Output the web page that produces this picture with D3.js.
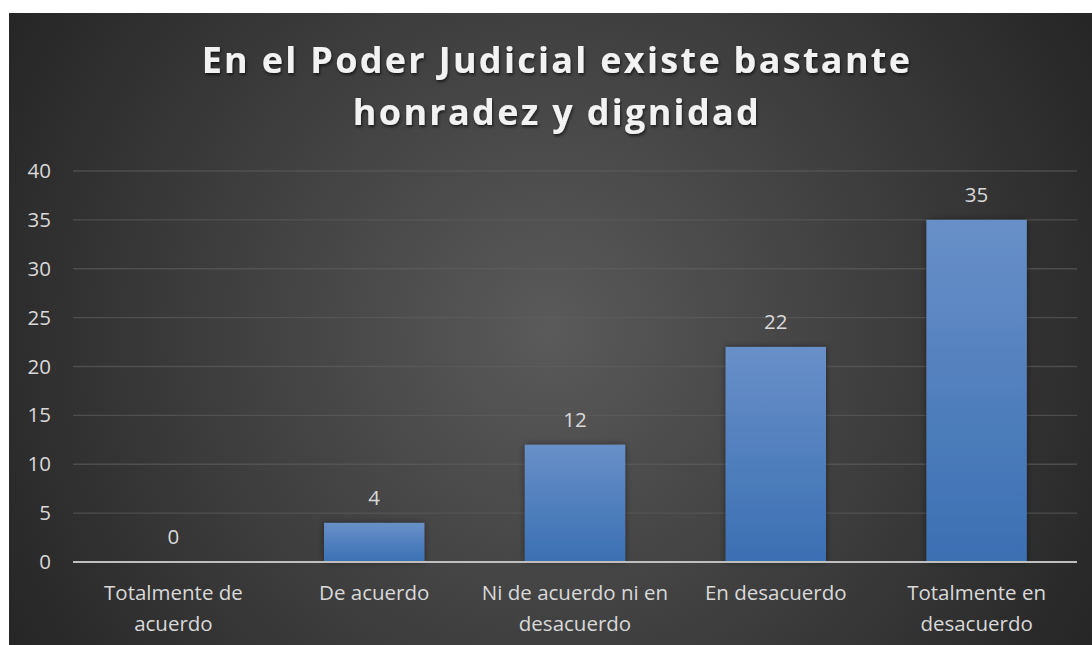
<!DOCTYPE html>
<html>
<head>
<meta charset="utf-8">
<script src="https://cdn.jsdelivr.net/npm/d3@7"></script>
<style>
html,body{margin:0;padding:0;background:#fff;}
svg{display:block;}
</style>
</head>
<body>
<svg id="chart" width="1092" height="645"></svg>
<script>
const titleLines = ["En el Poder Judicial existe bastante", "honradez y dignidad"];
const categories = ["Totalmente de acuerdo", "De acuerdo", "Ni de acuerdo ni en desacuerdo", "En desacuerdo", "Totalmente en desacuerdo"];
const categoryLines = [["Totalmente de", "acuerdo"], ["De acuerdo"], ["Ni de acuerdo ni en", "desacuerdo"], ["En desacuerdo"], ["Totalmente en", "desacuerdo"]];
const values = [0, 4, 12, 22, 35];
const yTicks = [0, 5, 10, 15, 20, 25, 30, 35, 40];

const svg = d3.select("#chart");
const W = 1092, H = 645;
const defs = svg.append("defs");

const bg = defs.append("radialGradient").attr("id", "bg")
  .attr("gradientUnits", "userSpaceOnUse")
  .attr("cx", 550).attr("cy", 330).attr("r", 620);
bg.append("stop").attr("offset", "0%").attr("stop-color", "#5a5a5a");
bg.append("stop").attr("offset", "100%").attr("stop-color", "#262626");

const bar = defs.append("linearGradient").attr("id", "barg").attr("x1", 0).attr("y1", 0).attr("x2", 0).attr("y2", 1);
bar.append("stop").attr("offset", "0%").attr("stop-color", "#6890c8");
bar.append("stop").attr("offset", "100%").attr("stop-color", "#3b6fb3");

const shadow = defs.append("filter").attr("id", "shadow").attr("x", "-20%").attr("y", "-20%").attr("width", "140%").attr("height", "140%");
shadow.append("feDropShadow").attr("dx", 0).attr("dy", 0).attr("stdDeviation", 3).attr("flood-color", "#000").attr("flood-opacity", 0.45);

const tshadow = defs.append("filter").attr("id", "tshadow").attr("x", "-5%").attr("y", "-30%").attr("width", "110%").attr("height", "160%");
tshadow.append("feDropShadow").attr("dx", 1).attr("dy", 2).attr("stdDeviation", 1.5).attr("flood-color", "#000").attr("flood-opacity", 0.6);

svg.append("rect").attr("x", 9).attr("y", 13).attr("width", W - 9).attr("height", H - 13).attr("fill", "url(#bg)");

const font = "'Open Sans', sans-serif";
const fs = 20.5;

const m = {left: 73, right: 1077, top: 171, bottom: 562};
const x = d3.scaleBand().domain(categories).range([m.left, m.right]).paddingInner(0.5).paddingOuter(0.25);
const y = d3.scaleLinear().domain([0, 40]).range([m.bottom, m.top]);

// title
svg.append("g").selectAll("text").data(titleLines).join("text")
  .attr("x", 557).attr("y", (d, i) => 73 + i * 52)
  .attr("text-anchor", "middle")
  .attr("fill", "#f2f2f2")
  .attr("font-family", "'Open Sans', sans-serif")
  .attr("font-weight", "bold")
  .attr("font-size", 36)
  .attr("letter-spacing", 2.3)
  .attr("filter", "url(#tshadow)")
  .text(d => d);

// gridlines
svg.append("g").selectAll("line").data(yTicks.filter(t => t > 0)).join("line")
  .attr("x1", m.left).attr("x2", m.right)
  .attr("y1", d => y(d)).attr("y2", d => y(d))
  .attr("stroke", "#5e5e5e").attr("stroke-width", 1.3).attr("stroke-opacity", 0.65);

// y axis labels
const yAxis = d3.axisLeft(y).tickValues(yTicks).tickSize(0).tickPadding(0);
const ya = svg.append("g").attr("transform", `translate(51,0)`).call(yAxis);
ya.select(".domain").remove();
ya.selectAll("text").attr("fill", "#d9d9d9").attr("font-family", font).attr("font-size", fs);

// bars
svg.append("g").selectAll("rect").data(values).join("rect")
  .attr("x", (d, i) => x(categories[i]))
  .attr("width", x.bandwidth())
  .attr("y", d => y(d))
  .attr("height", d => y(0) - y(d))
  .attr("fill", "url(#barg)")
  .attr("filter", "url(#shadow)")
  .style("display", d => d > 0 ? null : "none");

// zero axis line
svg.append("line").attr("x1", m.left).attr("x2", m.right)
  .attr("y1", y(0)).attr("y2", y(0))
  .attr("stroke", "#bfbfbf").attr("stroke-width", 2);

// data labels
svg.append("g").selectAll("text").data(values).join("text")
  .attr("x", (d, i) => x(categories[i]) + x.bandwidth() / 2)
  .attr("y", d => y(d) - 18)
  .attr("text-anchor", "middle")
  .attr("fill", "#d9d9d9")
  .attr("font-family", font)
  .attr("font-size", fs)
  .text(d => d);

// category labels
const cg = svg.append("g").selectAll("text").data(categories).join("text")
  .attr("text-anchor", "middle")
  .attr("fill", "#d9d9d9")
  .attr("font-family", font)
  .attr("font-size", fs);
cg.each(function(d, i) {
  const cx = x(d) + x.bandwidth() / 2;
  d3.select(this).selectAll("tspan").data(categoryLines[i]).join("tspan")
    .attr("x", cx).attr("y", (t, j) => 600 + j * 31).text(t => t);
});
</script>
</body>
</html>
